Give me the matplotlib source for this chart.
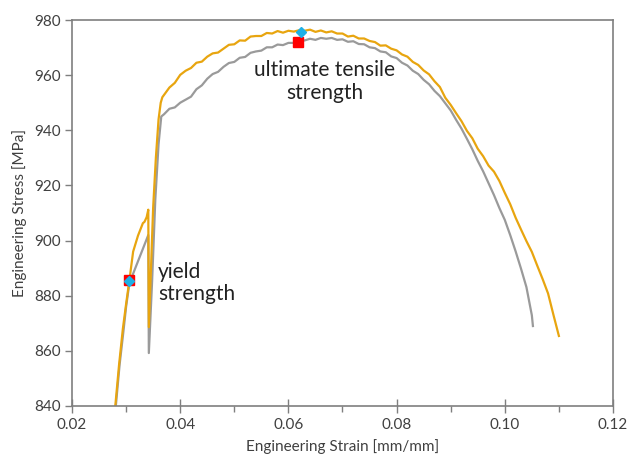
import numpy as np
import matplotlib.pyplot as plt
from matplotlib.ticker import MultipleLocator

plt.rcParams['font.family'] = ['Lato', 'DejaVu Sans']

# test 2 (orange) - engineering strain / stress
strain_a = [0.0280, 0.0287, 0.0294, 0.0300, 0.0306, 0.0313, 0.0322, 0.0331, 0.0334,
            0.0338, 0.0341, 0.0342, 0.0346, 0.0350, 0.0355, 0.0360, 0.0364, 0.0367,
            0.038, 0.039, 0.040, 0.041, 0.042, 0.043, 0.044, 0.045, 0.046, 0.047,
            0.048, 0.049, 0.050, 0.051, 0.052, 0.053, 0.054, 0.055, 0.056, 0.057,
            0.058, 0.059, 0.060, 0.061, 0.062, 0.063, 0.064, 0.065, 0.066, 0.067,
            0.068, 0.069, 0.070, 0.071, 0.072, 0.073, 0.074, 0.075, 0.076, 0.077,
            0.078, 0.079, 0.080, 0.081, 0.082, 0.083, 0.084, 0.085, 0.086, 0.087,
            0.088, 0.089, 0.090, 0.091, 0.092, 0.093, 0.094, 0.095, 0.096, 0.097,
            0.098, 0.099, 0.100, 0.101, 0.102, 0.103, 0.104, 0.105, 0.106, 0.107,
            0.108, 0.109, 0.110]
stress_a = [840.0, 855.0, 868.0, 877.0, 885.5, 896.0, 901.8, 906.3, 906.8,
            908.5, 911.2, 868.6, 890.0, 912.0, 930.0, 944.0, 950.0, 952.0,
            955.5, 957.2, 960.1, 961.6, 962.6, 964.5, 964.9, 966.7, 967.9, 968.2,
            969.6, 971.0, 971.2, 972.6, 972.5, 974.0, 974.2, 974.2, 975.3, 975.1,
            976.0, 975.4, 976.1, 975.8, 976.3, 976.1, 976.5, 975.7, 976.2, 975.5,
            975.9, 975.1, 975.1, 974.0, 974.3, 973.3, 973.3, 972.4, 972.0, 970.7,
            970.8, 969.6, 969.0, 967.5, 966.7, 964.8, 963.7, 961.7, 960.3, 957.8,
            955.7, 951.8, 949.2, 946.2, 943.3, 939.8, 937.1, 933.3, 930.6, 927.2,
            925.0, 921.6, 917.3, 913.2, 908.3, 904.0, 899.8, 895.9, 890.9, 886.0,
            880.8, 873.0, 865.4]

# test 1 (grey)
strain_b = [0.0281, 0.0288, 0.0295, 0.0300, 0.0306, 0.0315, 0.0323, 0.0331, 0.0337,
            0.0341, 0.0342, 0.0348, 0.0354, 0.0360, 0.0365,
            0.037, 0.038, 0.039, 0.040, 0.041, 0.042, 0.043, 0.044, 0.045, 0.046,
            0.047, 0.048, 0.049, 0.050, 0.051, 0.052, 0.053, 0.054, 0.055, 0.056,
            0.057, 0.058, 0.059, 0.060, 0.061, 0.062, 0.063, 0.064, 0.065, 0.066,
            0.067, 0.068, 0.069, 0.070, 0.071, 0.072, 0.073, 0.074, 0.075, 0.076,
            0.077, 0.078, 0.079, 0.080, 0.081, 0.082, 0.083, 0.084, 0.085, 0.086,
            0.087, 0.088, 0.089, 0.090, 0.091, 0.092, 0.093, 0.094, 0.095, 0.096,
            0.097, 0.098, 0.099, 0.100, 0.101, 0.102, 0.103, 0.104, 0.105, 0.1052]
stress_b = [840.0, 855.0, 867.0, 876.0, 884.5, 889.0, 893.0, 897.0, 900.0,
            902.0, 859.2, 885.0, 915.0, 935.0, 945.0,
            945.8, 947.8, 948.3, 950.0, 951.1, 952.2, 954.9, 956.3, 958.7, 960.4,
            961.2, 963.0, 964.4, 964.8, 966.3, 966.6, 968.1, 968.6, 968.9, 970.1,
            970.1, 971.1, 970.9, 971.7, 971.7, 972.5, 972.6, 973.2, 972.8, 973.5,
            973.2, 973.5, 972.8, 973.0, 972.1, 972.3, 971.3, 971.2, 970.1, 969.8,
            968.6, 968.3, 966.8, 966.2, 964.5, 963.5, 961.6, 960.4, 958.3, 956.7,
            954.3, 952.4, 949.8, 947.2, 943.8, 940.6, 936.9, 933.1, 928.9, 925.1,
            920.8, 916.5, 911.8, 907.5, 902.0, 896.1, 889.8, 883.1, 872.9, 869.0]

# yield and UTS points
ys_strain = [0.0306, 0.0306]
ys_stress = [885.7, 885.3]
uts_strain = [0.0618, 0.0624]
uts_stress = [972.2, 975.6]

orange = '#E8A50F'
grey = '#9A9A9A'
axcol = '#7F7F7F'
txtcol = '#404040'

fig = plt.figure(figsize=(6.3, 4.59), dpi=100)
ax = fig.add_axes([0.1143, 0.1155, 0.8587, 0.8409])

ax.plot(strain_b, stress_b, color=grey, lw=1.6)
ax.plot(strain_a, stress_a, color=orange, lw=1.6)

# red squares = test 1, blue diamonds = test 2
ax.plot(ys_strain[0], ys_stress[0], 's', color='#FF0000', ms=7, mec='#FF0000')
ax.plot(ys_strain[1], ys_stress[1], 'D', color='#1EB0E6', ms=5.5, mec='#1EB0E6')
ax.plot(uts_strain[0], uts_stress[0], 's', color='#FF0000', ms=7, mec='#FF0000')
ax.plot(uts_strain[1], uts_stress[1], 'D', color='#1EB0E6', ms=5.5, mec='#1EB0E6')

ax.text(0.0359, 884.6, 'yield\nstrength', fontsize=15, color='#222222',
        ha='left', va='center', linespacing=1.15)
ax.text(0.0667, 957.7, 'ultimate tensile\nstrength', fontsize=15, color='#222222',
        ha='center', va='center', linespacing=1.15)

ax.set_xlim(0.02, 0.12)
ax.set_ylim(840, 980)
ax.xaxis.set_major_locator(MultipleLocator(0.02))
ax.xaxis.set_minor_locator(MultipleLocator(0.01))
ax.yaxis.set_major_locator(MultipleLocator(20))
ax.xaxis.set_major_formatter(plt.FormatStrFormatter('%.2f'))

ax.tick_params(axis='x', which='major', direction='inout', length=10, width=1,
               color=axcol, labelsize=11, labelcolor=txtcol, pad=4)
ax.tick_params(axis='x', which='minor', direction='out', length=4, width=1, color=axcol)
ax.tick_params(axis='y', which='major', direction='out', length=5, width=1,
               color=axcol, labelsize=11, labelcolor=txtcol, pad=3)
for s in ax.spines.values():
    s.set_color(axcol)
    s.set_linewidth(1.2)

ax.set_xlabel('Engineering Strain [mm/mm]', fontsize=11, color=txtcol, labelpad=5)
ax.set_ylabel('Engineering Stress [MPa]', fontsize=11, color=txtcol, labelpad=5)

fig.savefig('out.png', dpi=100)
